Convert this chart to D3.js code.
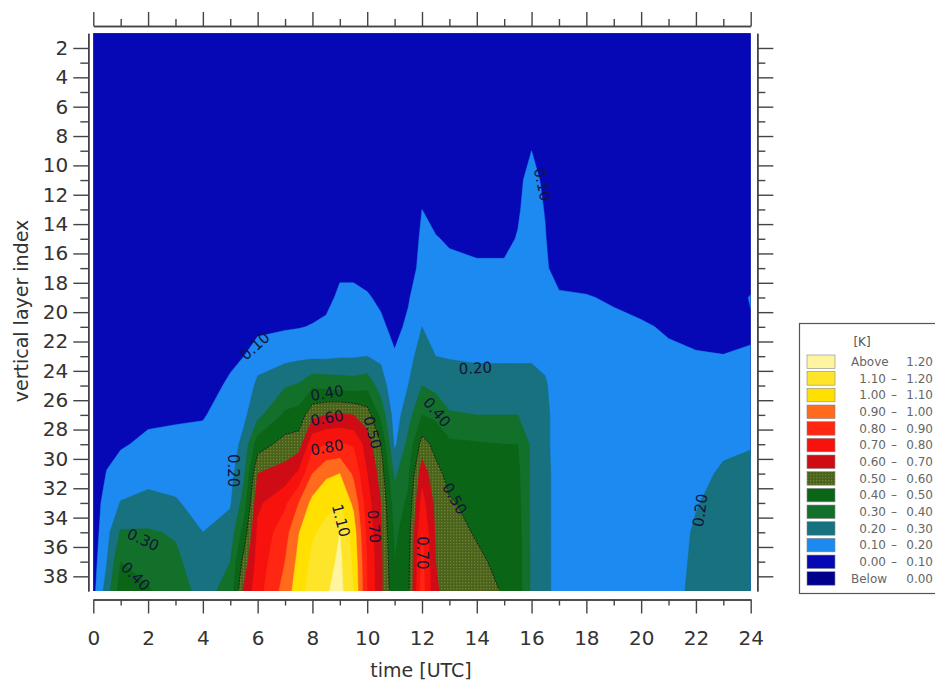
<!DOCTYPE html>
<html><head><meta charset="utf-8">
<script src="https://cdn.jsdelivr.net/npm/d3@7"></script>
<style>body{margin:0;background:#fff;} svg{display:block;}</style>
</head><body>
<svg id="chart" width="935" height="685"></svg>
<script>
// ---- data ----
const times = [0,0.5,1,2,3,4,5,5.5,6,7,7.5,8,8.5,9,9.5,10,10.5,11,11.5,12,12.5,13,14,15,15.5,16,16.5,17,18,19,20,21,22,23,24];
const layers = [1,5,9,11,13,15,17,19,21,23,25,27,29,31,33,35,37,39];
// one profile per time (values for the layers above, top to bottom), in K
const anomaly = [
  [.03,.03,.03,.03,.03,.03,.03,.03,.03,.03,.03,.03,.035,.04,.05,.05,.06,.07],
  [.03,.03,.03,.03,.03,.03,.03,.03,.03,.03,.04,.05,.07,.105,.14,.17,.20,.25],
  [.03,.03,.03,.03,.03,.03,.03,.03,.03,.03,.04,.06,.09,.14,.205,.31,.40,.45],
  [.03,.03,.03,.03,.03,.03,.03,.03,.03,.04,.05,.08,.12,.165,.23,.31,.36,.41],
  [.03,.03,.03,.03,.03,.03,.03,.03,.03,.04,.05,.09,.12,.16,.21,.29,.32,.34],
  [.03,.03,.03,.03,.03,.03,.03,.03,.03,.04,.06,.095,.12,.14,.16,.20,.24,.27],
  [.03,.03,.03,.03,.03,.03,.03,.03,.04,.08,.115,.13,.15,.17,.19,.24,.30,.33],
  [.03,.03,.03,.03,.03,.03,.03,.04,.06,.10,.14,.18,.23,.28,.34,.44,.54,.62],
  [.03,.03,.03,.03,.03,.03,.03,.04,.07,.16,.22,.27,.45,.60,.68,.72,.74,.76],
  [.03,.03,.03,.03,.03,.03,.03,.05,.09,.17,.29,.42,.54,.64,.78,.86,.90,.94],
  [.03,.03,.03,.03,.03,.03,.03,.05,.095,.18,.31,.44,.55,.72,.90,.995,1.03,1.06],
  [.03,.03,.03,.03,.03,.03,.04,.06,.105,.18,.38,.57,.77,.90,1.03,1.09,1.12,1.15],
  [.03,.03,.03,.03,.03,.03,.05,.07,.12,.18,.37,.60,.80,.98,1.08,1.12,1.16,1.19],
  [.03,.03,.03,.03,.03,.04,.08,.12,.15,.19,.36,.61,.81,1.00,1.09,1.20,1.22,1.23],
  [.03,.03,.03,.03,.03,.04,.08,.12,.15,.19,.35,.60,.79,.88,.98,1.05,1.08,1.10],
  [.03,.03,.03,.03,.03,.03,.06,.11,.15,.20,.37,.55,.65,.70,.74,.77,.79,.80],
  [.03,.03,.03,.03,.03,.03,.04,.08,.12,.18,.25,.37,.50,.56,.60,.61,.62,.62],
  [.03,.03,.03,.03,.03,.03,.03,.04,.07,.11,.13,.15,.18,.28,.34,.38,.40,.42],
  [.03,.03,.03,.03,.02,.03,.04,.09,.12,.16,.20,.26,.33,.38,.42,.45,.47,.48],
  [.03,.03,.03,.06,.10,.12,.14,.17,.20,.25,.30,.40,.54,.66,.74,.80,.83,.85],
  [.03,.03,.02,.04,.07,.105,.13,.15,.17,.20,.27,.38,.47,.53,.57,.59,.60,.61],
  [.03,.03,.03,.03,.06,.09,.12,.14,.16,.195,.24,.31,.42,.47,.51,.54,.56,.57],
  [.03,.03,.03,.03,.04,.08,.11,.13,.15,.19,.23,.30,.41,.44,.47,.49,.52,.55],
  [.03,.03,.03,.03,.04,.08,.11,.13,.15,.19,.23,.30,.40,.42,.44,.46,.47,.49],
  [.03,.03,.03,.08,.09,.105,.12,.13,.15,.19,.23,.30,.40,.42,.43,.44,.45,.45],
  [.03,.04,.10,.13,.14,.145,.15,.16,.17,.19,.23,.27,.28,.28,.28,.28,.28,.28],
  [.03,.03,.04,.08,.095,.105,.11,.13,.15,.18,.21,.22,.22,.22,.22,.22,.22,.22],
  [.03,.03,.03,.03,.03,.03,.07,.11,.13,.14,.15,.16,.16,.17,.17,.17,.17,.17],
  [.03,.03,.03,.03,.03,.03,.06,.105,.12,.13,.14,.15,.15,.15,.16,.16,.16,.16],
  [.03,.03,.03,.03,.03,.03,.04,.09,.12,.13,.14,.15,.15,.15,.16,.16,.16,.16],
  [.03,.03,.03,.03,.03,.03,.04,.07,.11,.13,.14,.15,.15,.15,.16,.16,.16,.17],
  [.03,.03,.03,.03,.03,.03,.03,.06,.09,.115,.13,.14,.14,.15,.15,.16,.165,.17],
  [.03,.03,.03,.03,.03,.03,.03,.05,.08,.105,.12,.14,.15,.17,.195,.21,.215,.22],
  [.03,.03,.03,.03,.03,.03,.03,.05,.07,.102,.13,.15,.18,.215,.23,.235,.24,.24],
  [.03,.03,.03,.03,.03,.03,.05,.105,.092,.105,.14,.16,.195,.22,.235,.24,.245,.25]
];
const levels = [-1, 0, 0.1, 0.2, 0.3, 0.4, 0.5, 0.6, 0.7, 0.8, 0.9, 1.0, 1.1, 1.2];
const bandColors = ['#00008c','#0608b6','#1c8af0','#17717f','#13702a','#0a6516','#4a621c',
                    '#cf0c16','#f7120e','#ff2612','#ff6a1c','#ffe000','#ffe52a','#fff4a0'];
const legendRows = [['Above','1.20'],['1.10','1.20'],['1.00','1.10'],['0.90','1.00'],['0.80','0.90'],
  ['0.70','0.80'],['0.60','0.70'],['0.50','0.60'],['0.40','0.50'],['0.30','0.40'],['0.20','0.30'],
  ['0.10','0.20'],['0.00','0.10'],['Below','0.00']];
const xMajor = [0,2,4,6,8,10,12,14,16,18,20,22,24];
const xMinor = [1,3,5,7,9,11,13,15,17,19,21,23];
const yMajor = [2,4,6,8,10,12,14,16,18,20,22,24,26,28,30,32,34,36,38];
const yMinor = [3,5,7,9,11,13,15,17,19,21,23,25,27,29,31,33,35,37];
const contourLabels = [
  {t:5.9, layer:22.3, text:'0.10', angle:-42},
  {t:16.4, layer:11.3, text:'0.10', angle:78},
  {t:5.12, layer:30.8, text:'0.20', angle:90},
  {t:13.95, layer:23.8, text:'0.20', angle:-3},
  {t:22.15, layer:33.5, text:'0.20', angle:-82},
  {t:1.82, layer:35.5, text:'0.30', angle:25},
  {t:1.55, layer:38.0, text:'0.40', angle:45},
  {t:8.53, layer:25.5, text:'0.40', angle:-10},
  {t:8.53, layer:27.2, text:'0.60', angle:-10},
  {t:8.53, layer:29.2, text:'0.80', angle:-10},
  {t:10.2, layer:28.2, text:'0.50', angle:75},
  {t:9.05, layer:34.2, text:'1.10', angle:75},
  {t:10.25, layer:34.6, text:'0.70', angle:85},
  {t:12.0, layer:36.4, text:'0.70', angle:90},
  {t:12.55, layer:26.8, text:'0.40', angle:50},
  {t:13.2, layer:32.7, text:'0.50', angle:60}
];

// ---- drawing ----
const FONT = "'DejaVu Sans', 'Liberation Sans', sans-serif";
const svg = d3.select('#chart');
const P = {left: 93.3, right: 750.7, top: 33.3, bottom: 591};
const x = d3.scaleLinear().domain([0, 24]).range([P.left, P.right]);
const y = d3.scaleLinear().domain([1, 39]).range([P.top, P.bottom]);

const defs = svg.append('defs');
defs.append('clipPath').attr('id','plotClip').append('rect')
  .attr('x',P.left).attr('y',P.top).attr('width',P.right-P.left).attr('height',P.bottom-P.top);
defs.append('clipPath').attr('id','lineClip').append('rect')
  .attr('x',P.left+1.5).attr('y',P.top+1.5).attr('width',P.right-P.left-3).attr('height',P.bottom-P.top-3);
const pat = defs.append('pattern').attr('id','olivePat').attr('width',3).attr('height',3)
  .attr('patternUnits','userSpaceOnUse');
pat.append('rect').attr('width',3).attr('height',3).attr('fill',bandColors[6]);
pat.append('rect').attr('x',0).attr('y',0).attr('width',1.3).attr('height',1.3).attr('fill','#6f8530');
const fillFor = i => i === 6 ? 'url(#olivePat)' : bandColors[i];

const n = times.length, m = layers.length;
const grid = new Array(n * m);
for (let j = 0; j < m; j++) for (let i = 0; i < n; i++) grid[i + j * n] = anomaly[i][j];
const iToT = d3.scaleLinear().domain(d3.range(n)).range(times).clamp(true);
const jToL = d3.scaleLinear().domain(d3.range(m)).range(layers).clamp(true);
const proj = d3.geoTransform({
  point(px, py) { this.stream.point(x(iToT(px - 0.5)), y(jToL(py - 0.5))); }
});
const path = d3.geoPath(proj);
const contours = d3.contours().size([n, m]).thresholds(levels)(grid);

const gPlot = svg.append('g').attr('clip-path','url(#plotClip)');
gPlot.selectAll('path.band').data(contours).join('path')
  .attr('class','band')
  .attr('d', path)
  .attr('fill', (d, i) => fillFor(i))
  .attr('stroke', (d, i) => i === 6 ? 'none' : bandColors[i])
  .attr('stroke-width', 0.5);

// 0.50 isoline drawn as a dark dotted line
const c05 = contours[levels.indexOf(0.5)];
svg.append('g').attr('clip-path','url(#lineClip)').append('path')
  .attr('d', path(c05)).attr('fill','none').attr('stroke','#1a1a1a')
  .attr('stroke-width',0.9).attr('stroke-dasharray','2,1.2');

// contour labels
svg.append('g').selectAll('text').data(contourLabels).join('text')
  .attr('transform', d => `translate(${x(d.t)},${y(d.layer)}) rotate(${d.angle})`)
  .attr('text-anchor','middle').attr('dy','0.36em')
  .attr('font-family', FONT).attr('font-size', 15).attr('fill','#14143a')
  .text(d => d.text);

// ---- axes ----
function styleAxis(g, labels) {
  g.select('.domain').attr('stroke','#444').attr('stroke-width',1.5);
  g.selectAll('.tick line').attr('stroke','#444').attr('stroke-width',1.4);
  g.selectAll('.tick text').attr('font-family', FONT).attr('font-size', 20).attr('fill','#333');
  if (!labels) g.selectAll('.tick text').remove();
}
const axB = svg.append('g').attr('transform','translate(0,599.5)')
  .call(d3.axisBottom(x).tickValues(xMajor).tickSize(14).tickSizeOuter(0).tickPadding(17).tickFormat(d3.format('d')));
styleAxis(axB, true);
const axBm = svg.append('g').attr('transform','translate(0,599.5)')
  .call(d3.axisBottom(x).tickValues(xMinor).tickSize(6).tickSizeOuter(0).tickFormat(''));
styleAxis(axBm, false);
const axT = svg.append('g').attr('transform','translate(0,26)')
  .call(d3.axisTop(x).tickValues(xMajor).tickSize(14).tickSizeOuter(0).tickFormat(''));
styleAxis(axT, false);
const axTm = svg.append('g').attr('transform','translate(0,26)')
  .call(d3.axisTop(x).tickValues(xMinor).tickSize(7).tickSizeOuter(0).tickFormat(''));
styleAxis(axTm, false);
const axL = svg.append('g').attr('transform','translate(88.3,0)')
  .call(d3.axisLeft(y).tickValues(yMajor).tickSize(15).tickSizeOuter(0).tickPadding(5).tickFormat(d3.format('d')));
styleAxis(axL, true);
const axLm = svg.append('g').attr('transform','translate(88.3,0)')
  .call(d3.axisLeft(y).tickValues(yMinor).tickSize(8).tickSizeOuter(0).tickFormat(''));
styleAxis(axLm, false);
const axR = svg.append('g').attr('transform','translate(757.3,0)')
  .call(d3.axisRight(y).tickValues(yMajor).tickSize(16).tickSizeOuter(0).tickFormat(''));
styleAxis(axR, false);
const axRm = svg.append('g').attr('transform','translate(757.3,0)')
  .call(d3.axisRight(y).tickValues(yMinor).tickSize(8).tickSizeOuter(0).tickFormat(''));
styleAxis(axRm, false);

svg.append('text').attr('x', 421).attr('y', 677).attr('text-anchor','middle')
  .attr('font-family', FONT).attr('font-size', 19).attr('fill','#333').text('time [UTC]');
svg.append('text').attr('transform','translate(28,311) rotate(-90)').attr('text-anchor','middle')
  .attr('font-family', FONT).attr('font-size', 19).attr('fill','#333').text('vertical layer index');

// ---- legend ----
const lg = svg.append('g');
lg.append('rect').attr('x',799.5).attr('y',323.5).attr('width',160).attr('height',270)
  .attr('fill','#fff').attr('stroke','#555').attr('stroke-width',1.2);
lg.append('text').attr('x',862).attr('y',346).attr('text-anchor','middle')
  .attr('font-family',FONT).attr('font-size',12).attr('fill','#555').text('[K]');
const legendColors = bandColors.slice().reverse();
const rowY = i => 355 + i * 16.67;
lg.selectAll('rect.sw').data(legendRows).join('rect').attr('class','sw')
  .attr('x',807).attr('y',(d,i)=>rowY(i)).attr('width',28).attr('height',13.5)
  .attr('fill',(d,i)=> (13 - i) === 6 ? 'url(#olivePat)' : legendColors[i])
  .attr('stroke','#888').attr('stroke-width',0.6);
legendRows.forEach((r, i) => {
  const yy = rowY(i) + 11;
  const t = lg.append('g').attr('font-family',FONT).attr('font-size',12).attr('fill','#666');
  if (r[0] === 'Above' || r[0] === 'Below') {
    t.append('text').attr('x',851).attr('y',yy).text(r[0]);
  } else {
    t.append('text').attr('x',886).attr('y',yy).attr('text-anchor','end').text(r[0]);
    t.append('text').attr('x',894).attr('y',yy).attr('text-anchor','middle').text('\u2013');
  }
  t.append('text').attr('x',933).attr('y',yy).attr('text-anchor','end').text(r[1]);
});
</script>
</body></html>
